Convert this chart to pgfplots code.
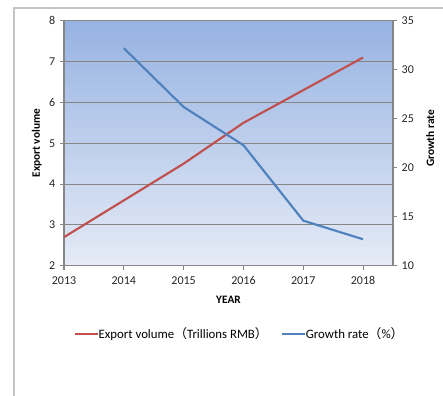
\documentclass[border=0pt]{standalone}
\usepackage{pgfplots}
\pgfplotsset{compat=1.18}
\usepackage{fontspec}
\setmainfont{Carlito}
\newfontfamily\cjk{Noto Sans CJK SC}

\definecolor{exportred}{HTML}{C0504D}
\definecolor{growthblue}{HTML}{4F81BD}
\definecolor{axisgray}{HTML}{868686}
\definecolor{framegray}{HTML}{C4C4C4}
\definecolor{bgtop}{HTML}{97B3E2}
\definecolor{bgbot}{HTML}{E5EBF6}

\pgfplotstableread{
year export
2013 2.7
2014 3.6
2015 4.5
2016 5.5
2017 6.3
2018 7.1
}\exporttable

\pgfplotstableread{
year growth
2014 32.2
2015 26.2
2016 22.3
2017 14.6
2018 12.7
}\growthtable

\pgfplotsset{
  common/.style={
    at={(48pt,-199.3pt)}, anchor=south west,
    scale only axis, width=246.75pt, height=183.75pt,
    xmin=2013, xmax=2018.5,
    tick align=outside, major tick length=3pt,
    axis line style={axisgray, line width=0.8pt},
    tick style={axisgray, line width=0.8pt},
    tick label style={font=\fontsize{9}{10}\selectfont, text=black!85},
    label style={font=\bfseries\fontsize{8.5}{10}\selectfont},
    /pgf/number format/assume math mode=true,
    /pgf/number format/1000 sep={},
  }
}

\begin{document}
\begin{tikzpicture}
\useasboundingbox (0,0) rectangle (332.25pt,-297pt);
% chart area border
\draw[framegray, line width=1.3pt] (10.5pt,-297pt) -- (10.5pt,-6pt) -- (332.25pt,-6pt);

% left axis: export volume
\begin{axis}[common,
  axis background/.style={shade, top color=bgtop, bottom color=bgbot},
  ymin=2, ymax=8, ytick={2,...,8},
  xtick={2013,...,2018},
  x tick label style={yshift=-1.5pt},
  axis x line*=bottom, axis y line*=left,
  ymajorgrids, grid style={axisgray, line width=0.8pt},
  xlabel={YEAR}, ylabel={Export volume},
  xlabel style={at={(axis description cs:0.5,-0.14)}, anchor=center},
  ylabel style={at={(axis description cs:-0.083,0.5)}, anchor=center},
  legend style={at={(axis description cs:0.535,-0.279)}, anchor=center,
    draw=none, fill=none, font=\fontsize{9.6}{11}\selectfont,
    legend columns=2, column sep=0pt,
    /tikz/every even column/.append style={column sep=8pt},
    /tikz/every odd column/.append style={column sep=-2pt}},
  legend image code/.code={\draw[#1, line width=1.6pt] (0pt,0pt) -- (17pt,0pt);},
]
\addplot[exportred, line width=1.6pt] table[x=year, y=export] {\exporttable};
\addlegendentry{Export volume{\cjk （}Trillions RMB{\cjk ）}}
\addlegendimage{growthblue, line width=1.6pt}
\addlegendentry{Growth rate{\cjk （}\%{\cjk ）}}
\end{axis}

% right axis: growth rate
\begin{axis}[common,
  ymin=10, ymax=35, ytick={10,15,...,35},
  axis x line=none, axis y line*=right,
  ylabel={Growth rate},
  ylabel style={at={(axis description cs:1.113,0.52)}, anchor=center},
]
\addplot[growthblue, line width=1.6pt] table[x=year, y=growth] {\growthtable};
\end{axis}
\end{tikzpicture}
\end{document}
